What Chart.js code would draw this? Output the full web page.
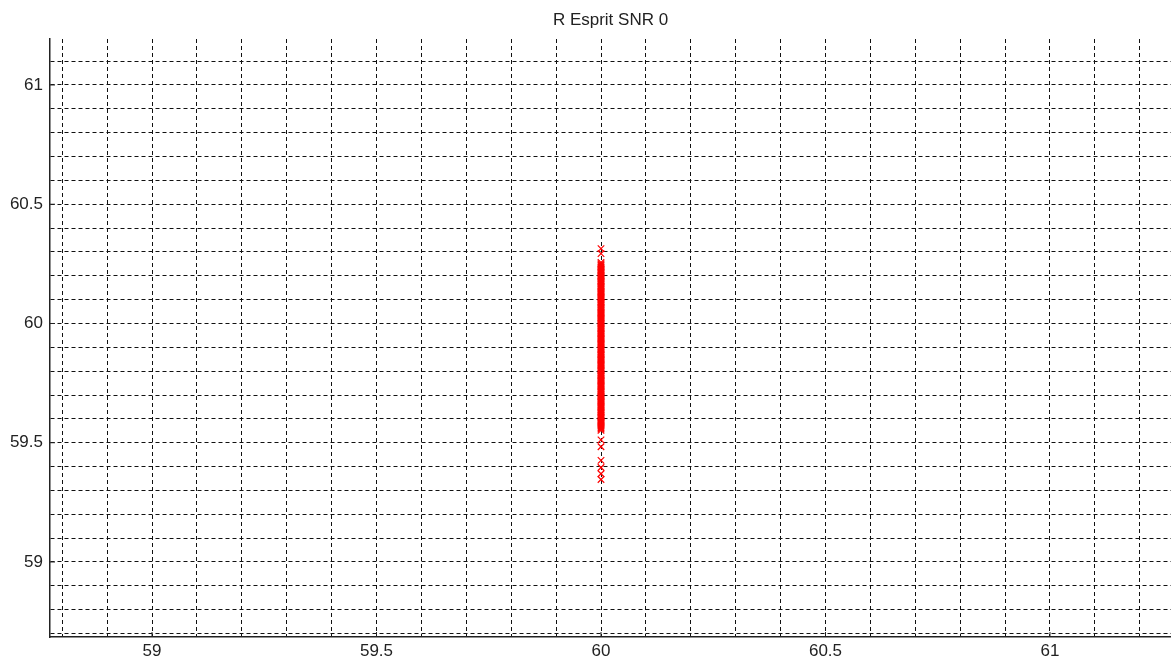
<!DOCTYPE html>
<html>
<head>
<meta charset="utf-8">
<script src="https://cdn.jsdelivr.net/npm/chart.js@4/dist/chart.umd.min.js"></script>
<style>
html,body{margin:0;padding:0;background:#fff;}
#wrap{width:1171px;height:662px;}
</style>
</head>
<body>
<div id="wrap"><canvas id="c" width="1171" height="662"></canvas></div>
<script>
const chartTitle = "R Esprit SNR 0";
const xRange = [58.7728, 61.2695];
const yRange = [58.6855, 61.1928];
const majorTicks = [59, 59.5, 60, 60.5, 61];
const estimateX = 60;
const estimateY = [
  60.314, 60.293,
  60.256, 60.251, 60.247, 60.243, 60.238, 60.234, 60.229, 60.226, 60.221, 60.216,
  60.212, 60.208, 60.203, 60.199, 60.195, 60.190, 60.186, 60.181, 60.177, 60.173,
  60.168, 60.164, 60.159, 60.155, 60.151, 60.146, 60.142, 60.137, 60.133, 60.129,
  60.124, 60.120, 60.115, 60.111, 60.107, 60.102, 60.098, 60.093, 60.089, 60.085,
  60.080, 60.076, 60.071, 60.067, 60.063, 60.058, 60.054, 60.049, 60.045, 60.041,
  60.036, 60.032, 60.027, 60.023, 60.019, 60.014, 60.010, 60.005, 60.001, 59.997,
  59.992, 59.988, 59.983, 59.979, 59.975, 59.970, 59.966, 59.961, 59.957, 59.953,
  59.948, 59.944, 59.939, 59.935, 59.931, 59.926, 59.922, 59.917, 59.913, 59.909,
  59.904, 59.900, 59.895, 59.891, 59.887, 59.882, 59.878, 59.873, 59.869, 59.865,
  59.860, 59.856, 59.851, 59.847, 59.843, 59.838, 59.834, 59.829, 59.825, 59.821,
  59.816, 59.812, 59.807, 59.803, 59.799, 59.794, 59.790, 59.785, 59.781, 59.777,
  59.772, 59.768, 59.763, 59.759, 59.755, 59.750, 59.746, 59.741, 59.737, 59.733,
  59.728, 59.724, 59.719, 59.715, 59.711, 59.706, 59.702, 59.697, 59.693, 59.689,
  59.684, 59.680, 59.675, 59.671, 59.667, 59.662, 59.658, 59.653, 59.649, 59.645,
  59.640, 59.636, 59.631, 59.627, 59.623, 59.618, 59.614, 59.609, 59.605, 59.601,
  59.596, 59.592, 59.587, 59.583, 59.579, 59.574, 59.570, 59.565, 59.561, 59.557,
  59.552,
  59.512, 59.483, 59.426, 59.396, 59.370, 59.346
];

const points = estimateY.map(y => ({x: estimateX, y: y}));

function isMajor(v){ return majorTicks.some(m => Math.abs(m - v) < 1e-6); }
function lbl(v){ return isMajor(v) ? String(Math.round(v*10)/10) : ''; }

const FONT = "'Liberation Sans', Arial, sans-serif";

const innerTicks = {
  id: 'innerTicks',
  afterDatasetsDraw(chart){
    const ctx = chart.ctx, a = chart.chartArea;
    const xs = chart.scales.x, ys = chart.scales.y;
    ctx.save();
    ctx.strokeStyle = '#222';
    ctx.lineWidth = 1;
    ctx.beginPath();
    majorTicks.forEach(v => {
      const px = xs.getPixelForValue(v);
      if (px >= a.left && px <= a.right) { ctx.moveTo(px, a.bottom); ctx.lineTo(px, a.bottom - 5); }
      const py = ys.getPixelForValue(v);
      if (py >= a.top && py <= a.bottom) { ctx.moveTo(a.left, py); ctx.lineTo(a.left + 5, py); }
    });
    ctx.stroke();
    ctx.restore();
  }
};

new Chart(document.getElementById('c'), {
  type: 'scatter',
  data: {
    datasets: [{
      data: points,
      pointStyle: 'crossRot',
      pointRadius: 4.6,
      pointBorderColor: '#ff0000',
      pointBackgroundColor: '#ff0000',
      pointBorderWidth: 1.2,
      showLine: false
    }]
  },
  options: {
    responsive: false,
    animation: false,
    devicePixelRatio: 1,
    layout: { padding: 0, autoPadding: false },
    plugins: {
      legend: { display: false },
      tooltip: { enabled: false },
      title: {
        display: true,
        fullSize: false,
        text: chartTitle,
        color: '#222',
        font: { family: FONT, size: 17, weight: 'normal' },
        padding: { top: 9.8, bottom: 8.8 }
      }
    },
    scales: {
      x: {
        type: 'linear',
        min: xRange[0], max: xRange[1],
        afterFit(s){ s.height = 25; s.paddingLeft = 0; s.paddingRight = 0; },
        ticks: {
          stepSize: 0.1, includeBounds: false, autoSkip: false, maxRotation: 0,
          padding: 4, color: '#222',
          font: { family: FONT, size: 17 },
          callback: v => lbl(v)
        },
        grid: { color: '#111', lineWidth: 1, drawTicks: false },
        border: { display: true, color: '#222', width: 1.5, dash: [4, 3] }
      },
      y: {
        type: 'linear',
        min: yRange[0], max: yRange[1],
        afterFit(s){ s.width = 50; s.paddingTop = 0; s.paddingBottom = 0; },
        ticks: {
          stepSize: 0.1, includeBounds: false, autoSkip: false,
          padding: 7, color: '#222',
          font: { family: FONT, size: 17 },
          callback: v => lbl(v)
        },
        grid: { color: '#111', lineWidth: 1, drawTicks: false },
        border: { display: true, color: '#222', width: 1.5, dash: [4, 3] }
      }
    }
  },
  plugins: [innerTicks]
});
</script>
</body>
</html>
